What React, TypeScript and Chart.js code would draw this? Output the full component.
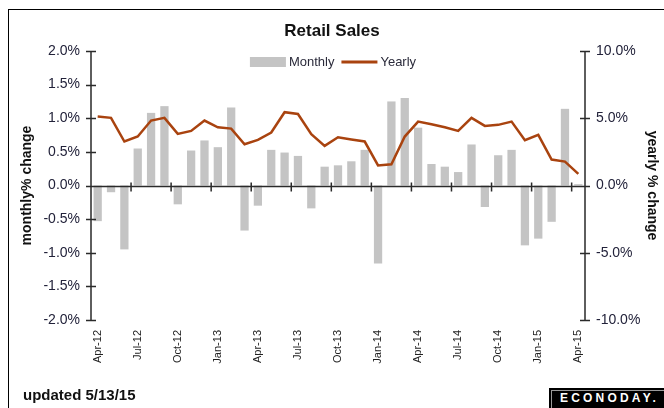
import React, { useEffect, useRef } from "react";
import { Chart, registerables } from "chart.js";

Chart.register(...registerables);

const FONT = "'Liberation Sans', Arial, sans-serif";

const categories = [
  "Apr-12", "May-12", "Jun-12", "Jul-12", "Aug-12", "Sep-12", "Oct-12", "Nov-12", "Dec-12",
  "Jan-13", "Feb-13", "Mar-13", "Apr-13", "May-13", "Jun-13", "Jul-13", "Aug-13", "Sep-13",
  "Oct-13", "Nov-13", "Dec-13", "Jan-14", "Feb-14", "Mar-14", "Apr-14", "May-14", "Jun-14",
  "Jul-14", "Aug-14", "Sep-14", "Oct-14", "Nov-14", "Dec-14", "Jan-15", "Feb-15", "Mar-15",
  "Apr-15",
];

const monthly = [
  -0.53, -0.1, -0.95, 0.55, 1.08, 1.18, -0.28, 0.52, 0.67, 0.57, 1.16, -0.67, -0.3, 0.53,
  0.49, 0.44, -0.34, 0.28, 0.3, 0.36, 0.53, -1.16, 1.25, 1.3, 0.86, 0.32, 0.28, 0.2, 0.61,
  -0.32, 0.45, 0.53, -0.89, -0.79, -0.54, 1.14, 0.02,
];

const yearly = [
  5.13, 5.03, 3.27, 3.64, 4.83, 5.03, 3.84, 4.06, 4.83, 4.33, 4.23, 3.07, 3.39, 3.94, 5.45,
  5.32, 3.81, 2.95, 3.59, 3.42, 3.27, 1.49, 1.58, 3.64, 4.75, 4.56, 4.33, 4.06, 5.03, 4.43,
  4.51, 4.75, 3.37, 3.76, 1.93, 1.78, 0.87,
];

const leftTicks = [-2, -1.5, -1, -0.5, 0, 0.5, 1, 1.5, 2];
const rightTicks = [-10, -5, 0, 5, 10];
const legendLabels = ["Monthly", "Yearly"];

const BAR_COLOR = "#c4c4c4";
const LINE_COLOR = "#a9430f";
const AXIS_COLOR = "#2a2a2a";
const TEXT_COLOR = "#2a2a3a";

const axesPlugin = {
  id: "customAxes",
  afterDatasetsDraw(chart: any) {
    const { ctx, chartArea, scales } = chart;
    const x = scales.x;
    const y = scales.y;
    const y1 = scales.y1;
    ctx.save();
    ctx.strokeStyle = AXIS_COLOR;
    ctx.lineWidth = 1.5;
    ctx.beginPath();
    ctx.moveTo(chartArea.left, chartArea.top);
    ctx.lineTo(chartArea.left, chartArea.bottom);
    leftTicks.forEach((v) => {
      const py = Math.round(y.getPixelForValue(v)) + 0.5;
      ctx.moveTo(chartArea.left - 5, py);
      ctx.lineTo(chartArea.left + 5, py);
    });
    ctx.moveTo(chartArea.right, chartArea.top);
    ctx.lineTo(chartArea.right, chartArea.bottom);
    rightTicks.forEach((v) => {
      const py = Math.round(y1.getPixelForValue(v)) + 0.5;
      ctx.moveTo(chartArea.right - 5, py);
      ctx.lineTo(chartArea.right + 5, py);
    });
    const zy = Math.round(y.getPixelForValue(0)) + 0.5;
    ctx.moveTo(chartArea.left, zy);
    ctx.lineTo(chartArea.right, zy);
    for (let i = 3; i < categories.length; i += 3) {
      const bx = (x.getPixelForValue(i - 1) + x.getPixelForValue(i)) / 2;
      ctx.moveTo(bx, zy - 4);
      ctx.lineTo(bx, zy + 5);
    }
    ctx.stroke();
    ctx.restore();
  },
  afterDraw(chart: any) {
    // legend inside plot area, top centre
    const { ctx, chartArea } = chart;
    ctx.save();
    ctx.font = `13px ${FONT}`;
    ctx.textBaseline = "middle";
    const boxW = 36;
    const gap = 3;
    const itemGap = 7;
    const w0 = ctx.measureText(legendLabels[0]).width;
    const w1 = ctx.measureText(legendLabels[1]).width;
    const total = boxW + gap + w0 + itemGap + boxW + gap + w1;
    const cx = (chartArea.left + chartArea.right) / 2 - 5;
    let lx = cx - total / 2;
    const ly = chartArea.top + 11;
    ctx.fillStyle = BAR_COLOR;
    ctx.fillRect(lx, ly - 5, boxW, 10);
    lx += boxW + gap;
    ctx.fillStyle = TEXT_COLOR;
    ctx.fillText(legendLabels[0], lx, ly);
    lx += w0 + itemGap;
    ctx.strokeStyle = LINE_COLOR;
    ctx.lineWidth = 3;
    ctx.beginPath();
    ctx.moveTo(lx, ly);
    ctx.lineTo(lx + boxW, ly);
    ctx.stroke();
    lx += boxW + gap;
    ctx.fillStyle = TEXT_COLOR;
    ctx.fillText(legendLabels[1], lx, ly);
    ctx.restore();
  },
};

export default function App() {
  const canvasRef = useRef<HTMLCanvasElement | null>(null);

  useEffect(() => {
    if (!canvasRef.current) return;
    Chart.defaults.font.family = FONT;
    const chart = new Chart(canvasRef.current, {
      type: "bar",
      data: {
        labels: categories,
        datasets: [
          {
            type: "bar",
            label: "Monthly",
            data: monthly,
            backgroundColor: BAR_COLOR,
            borderWidth: 0,
            barPercentage: 0.62,
            categoryPercentage: 1,
            yAxisID: "y",
            order: 1,
          } as any,
          {
            type: "line",
            label: "Yearly",
            data: yearly,
            borderColor: LINE_COLOR,
            backgroundColor: LINE_COLOR,
            borderWidth: 2.5,
            pointRadius: 0,
            tension: 0,
            yAxisID: "y1",
            order: 0,
          } as any,
        ],
      },
      options: {
        animation: false,
        responsive: false,
        maintainAspectRatio: false,
        layout: { padding: 0 },
        plugins: {
          tooltip: { enabled: false },
          legend: { display: false },
          title: {
            display: true,
            text: "Retail Sales",
            color: "#111",
            font: { size: 17, weight: "bold", family: FONT },
            padding: { top: 21, bottom: 9.6 },
          },
        },
        scales: {
          x: {
            type: "category",
            offset: true,
            grid: { display: false, drawTicks: false },
            border: { display: false },
            ticks: {
              autoSkip: false,
              maxRotation: 90,
              minRotation: 90,
              padding: 10,
              color: "#222",
              font: { size: 11, family: FONT },
              callback: (_v: any, i: number) => (i % 3 === 0 ? categories[i] : ""),
            },
            afterFit: (s: any) => {
              s.height = 88;
            },
          },
          y: {
            type: "linear",
            position: "left",
            min: -2,
            max: 2,
            grid: { display: false, drawTicks: false },
            border: { display: false },
            ticks: {
              stepSize: 0.5,
              padding: 11,
              color: "#22223a",
              font: { size: 14, family: FONT },
              callback: (v: any) => Number(v).toFixed(1) + "%",
            },
            title: {
              display: true,
              text: "monthly% change",
              color: "#111",
              font: { size: 14, weight: "bold", family: FONT },
              padding: { top: 18.6, bottom: 0 },
            },
            afterFit: (s: any) => {
              s.width = 91;
            },
          },
          y1: {
            type: "linear",
            position: "right",
            min: -10,
            max: 10,
            grid: { display: false, drawTicks: false },
            border: { display: false },
            ticks: {
              stepSize: 5,
              padding: 11,
              color: "#22223a",
              font: { size: 14, family: FONT },
              callback: (v: any) => Number(v).toFixed(1) + "%",
            },
            title: {
              display: true,
              text: "yearly % change",
              color: "#111",
              font: { size: 14, weight: "bold", family: FONT },
              padding: { top: 3.6, bottom: 0 },
            },
            afterFit: (s: any) => {
              s.width = 79;
            },
          },
        },
      },
      plugins: [axesPlugin],
    } as any);
    return () => chart.destroy();
  }, []);

  return (
    <div
      style={{
        position: "fixed",
        left: 0,
        top: 0,
        width: 664,
        height: 408,
        overflow: "hidden",
        background: "#fff",
        fontFamily: FONT,
      }}
    >
      <div
        style={{
          position: "absolute",
          left: 8,
          top: 9,
          width: 700,
          height: 500,
          borderLeft: "1px solid #000",
          borderTop: "1px solid #000",
        }}
      />
      <canvas
        ref={canvasRef}
        width={664}
        height={408}
        style={{ position: "absolute", left: 0, top: 0, width: 664, height: 408 }}
      />
      <div
        style={{
          position: "absolute",
          left: 23,
          top: 386,
          fontSize: 15,
          fontWeight: "bold",
          color: "#111",
          whiteSpace: "nowrap",
        }}
      >
        updated 5/13/15
      </div>
      <div
        style={{
          position: "absolute",
          left: 549,
          top: 388,
          width: 130,
          height: 24,
          background: "#000",
          boxSizing: "border-box",
          padding: 2,
        }}
      >
        <div
          style={{
            border: "1px solid #9a9a9a",
            height: 22,
            boxSizing: "border-box",
            color: "#fff",
            fontWeight: "bold",
            fontSize: 12,
            letterSpacing: 3.2,
            lineHeight: "15px",
            paddingLeft: 8,
            whiteSpace: "nowrap",
          }}
        >
          ECONODAY.
        </div>
      </div>
    </div>
  );
}
